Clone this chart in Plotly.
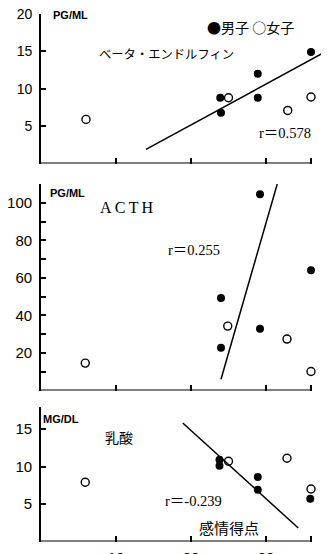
import plotly.graph_objects as go

# ---- data ----
# x = 感情得点 (emotion score)
# Panel 1: ベータ・エンドルフィン (PG/ML)
be_male_x = [23.9, 24.0, 28.9, 28.9, 36.0]
be_male_y = [8.8, 6.8, 12.0, 8.8, 14.9]
be_female_x = [6.0, 25.0, 32.9, 36.0]
be_female_y = [5.9, 8.8, 7.1, 8.9]
be_fit_x = [14.0, 38.4]
be_fit_y = [1.9, 15.2]

# Panel 2: ACTH (PG/ML)
acth_male_x = [29.2, 36.0, 24.0, 29.2, 24.0]
acth_male_y = [104.5, 64.0, 49.3, 32.9, 22.8]
acth_female_x = [24.9, 32.8, 5.9, 36.0]
acth_female_y = [34.3, 27.4, 14.6, 10.1]
acth_fit_x = [24.0, 31.5]
acth_fit_y = [6.0, 110.0]

# Panel 3: 乳酸 (MG/DL)
lac_male_x = [23.8, 23.8, 28.9, 28.9, 35.9]
lac_male_y = [10.9, 10.1, 8.6, 6.9, 5.7]
lac_female_x = [5.9, 25.0, 32.8, 36.0]
lac_female_y = [7.9, 10.7, 11.1, 7.0]
lac_fit_x = [18.9, 34.3]
lac_fit_y = [15.8, 1.8]

x_ticks = [10, 20, 30, 36]
x_ticklabels = ["10", "20", "30", ""]
x_axis_end = 36

be_ticks = [5, 10, 15, 20]
acth_ticks = [10, 20, 30, 40, 50, 60, 70, 80, 90, 100, 110]
acth_ticklabels = ["", "20", "", "40", "", "60", "", "80", "", "100", ""]
lac_ticks = [5, 10, 15]

# page has an 8px body margin: figure is drawn 8px right/down of the window origin
OFF = 8
W, H = 329 - OFF, 554 - OFF
def pdom(top_px, bot_px):
    return [1 - (bot_px - OFF) / H, 1 - (top_px - OFF) / H]

fig = go.Figure()

filled = dict(symbol="circle", size=8, color="black")
hollow = dict(symbol="circle-open", size=8, color="black", line=dict(width=1.4, color="black"))
line_style = dict(color="black", width=1.5)

panels = [
    ("x", "y", be_male_x, be_male_y, be_female_x, be_female_y, be_fit_x, be_fit_y),
    ("x2", "y2", acth_male_x, acth_male_y, acth_female_x, acth_female_y, acth_fit_x, acth_fit_y),
    ("x3", "y3", lac_male_x, lac_male_y, lac_female_x, lac_female_y, lac_fit_x, lac_fit_y),
]
for xa, ya, mx, my, fx, fy, lx, ly in panels:
    fig.add_trace(go.Scatter(x=lx, y=ly, mode="lines", line=line_style, xaxis=xa, yaxis=ya,
                             showlegend=False, hoverinfo="skip"))
    fig.add_trace(go.Scatter(x=mx, y=my, mode="markers", marker=filled, name="男子",
                             xaxis=xa, yaxis=ya, showlegend=False, cliponaxis=False))
    fig.add_trace(go.Scatter(x=fx, y=fy, mode="markers", marker=hollow, name="女子",
                             xaxis=xa, yaxis=ya, showlegend=False, cliponaxis=False))

tickfont = dict(family="Liberation Sans, Arial, sans-serif", size=15, color="black")
xcommon = dict(range=[0, 38.4], showgrid=False, zeroline=False, showline=False,
               tickmode="array", tickvals=x_ticks, ticks="inside", ticklen=6,
               tickwidth=1.5, tickcolor="black", tickfont=tickfont, automargin=False,
               ticklabeloverflow="allow")
ycommon = dict(showgrid=False, zeroline=False, showline=True, linecolor="black", linewidth=1.8,
               ticks="inside", ticklen=5, tickwidth=1.5, tickcolor="black", tickfont=tickfont,
               tickmode="array", automargin=False, ticklabelstandoff=4,
               ticklabeloverflow="allow")

y1 = dict(ycommon)
y1.update(domain=pdom(14, 163.5), range=[0, 20], anchor="x",
          tickvals=be_ticks, ticktext=[str(v) for v in be_ticks],
          tickfont=dict(tickfont, size=14))

fig.update_layout(
    width=W, height=H,
    margin=dict(l=41 - OFF, r=0, t=0, b=0),
    paper_bgcolor="white", plot_bgcolor="white",
    showlegend=False,
    xaxis=dict(**xcommon, domain=[0, 1], anchor="y", ticktext=[""] * 4),
    xaxis2=dict(**xcommon, domain=[0, 1], anchor="y2", ticktext=[""] * 4),
    xaxis3=dict(**xcommon, domain=[0, 1], anchor="y3", ticktext=x_ticklabels, ticklabelstandoff=5),
    yaxis=y1,
    yaxis2=dict(**ycommon, domain=pdom(184, 390.5), range=[0, 110], anchor="x2",
                tickvals=acth_ticks, ticktext=acth_ticklabels),
    yaxis3=dict(**ycommon, domain=pdom(406.5, 541.5), range=[0, 18], anchor="x3",
                tickvals=lac_ticks, ticktext=[str(v) for v in lac_ticks]),
)

# x axis lines (ending at the last tick)
for xr, yr in [("x", "y"), ("x2", "y2"), ("x3", "y3")]:
    fig.add_shape(type="line", xref=xr, yref=yr, x0=0, x1=x_axis_end, y0=0, y1=0,
                  line=dict(color="black", width=2))

unit_font = dict(family="Liberation Sans Narrow, Liberation Sans, Arial, sans-serif", size=11, color="black")
jp_font = dict(family="Noto Sans CJK JP, sans-serif", size=14, color="black")
r_font = dict(family="Liberation Serif, Noto Sans CJK JP, serif", size=14.5, color="black")
acth_font = dict(family="Liberation Serif, serif", size=16, color="black")

def ann(xr, yr, x, y, text, font):
    fig.add_annotation(xref=xr, yref=yr, x=x, y=y, text=text, showarrow=False,
                       font=font, xanchor="center", yanchor="middle")

ann("x", "y", 3.9, 19.8, "<b>PG/ML</b>", unit_font)
ann("x", "y", 27.9, 18.3, "●男子 ○女子", jp_font)
ann("x", "y", 16.7, 14.6, "ベータ・エンドルフィン", dict(jp_font, size=12.3))
ann("x", "y", 32.5, 4.1, "r＝0.578", r_font)

ann("x2", "y2", 3.5, 105.0, "<b>PG/ML</b>", unit_font)
ann("x2", "y2", 11.5, 97.3, "A\u2009C\u2009T\u2009H", acth_font)
ann("x2", "y2", 20.4, 74.9, "r＝0.255", r_font)

ann("x3", "y3", 2.7, 16.3, "<b>MG/DL</b>", unit_font)
ann("x3", "y3", 10.4, 13.9, "乳酸", jp_font)
ann("x3", "y3", 20.3, 5.4, "r＝-0.239", r_font)
ann("x3", "y3", 25.0, 1.9, "感情得点", dict(jp_font, size=15))

fig.write_html("out.html")
